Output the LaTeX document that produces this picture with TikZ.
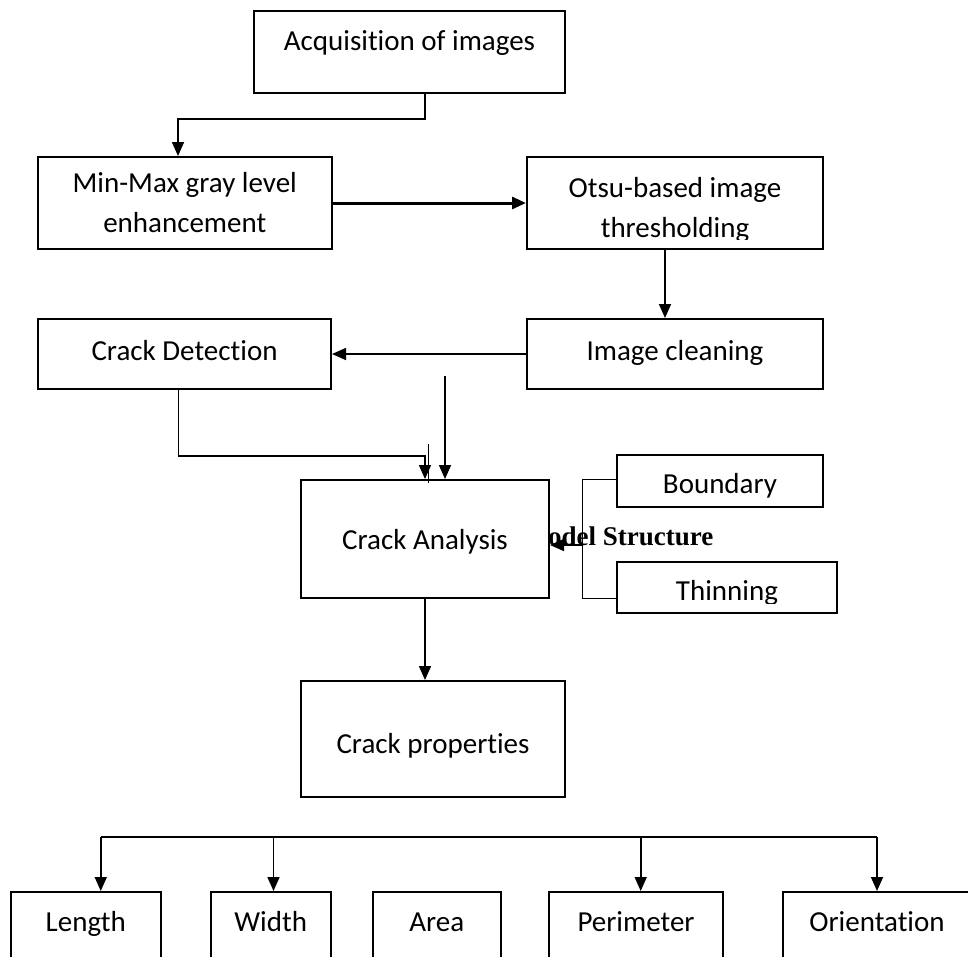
\documentclass[tikz,border=0pt]{standalone}
\usepackage{fontspec}
\setmainfont{Carlito}[Ligatures=NoCommon]
\newfontfamily\serifbold{Liberation Serif}
\usetikzlibrary{arrows.meta}

\tikzset{
  box/.style={draw, line width=2pt, fill=white, inner sep=0pt, align=center},
  leaf/.style={box, anchor=north, minimum height=90pt, text height=20pt, text depth=32pt},
  arr/.style={-{Triangle[length=14pt,width=12pt]}, line width=1.6pt},
  clipped/.style 2 args={path picture={
      \clip ([yshift=10pt]path picture bounding box.south west)
        rectangle (path picture bounding box.north east);
      \node[align=center] at ([yshift=#2]path picture bounding box.center) {#1};}},
}

\begin{document}
\begin{tikzpicture}[x=1pt, y=-1pt, font=\fontsize{29}{40}\selectfont]
    \useasboundingbox (0,0) rectangle (968,956);
    % processing chain
    \node[box, minimum width=311pt, minimum height=82pt, text height=20pt, text depth=23pt] (acq) at (409.5,51.7) {Acquisition of images};
    \node[box, minimum width=293.5pt, minimum height=92pt] (minmax) at (184.75,203) {Min-Max gray level\\enhancement};
    \node[box, minimum width=296pt, minimum height=92pt, clipped={Otsu-based image\\thresholding}{-7pt}] (otsu) at (675,203) {};
    \node[box, minimum width=293pt, minimum height=70pt, text height=20pt, text depth=8pt] (detect) at (184.5,354) {Crack Detection};
    \node[box, minimum width=296pt, minimum height=70pt, text height=20pt, text depth=8pt] (clean) at (675,354) {Image cleaning};
    \node[box, minimum width=248pt, minimum height=118pt, text height=20pt, text depth=0pt] (analysis) at (425,539) {Crack Analysis};
    \node[box, minimum width=206pt, minimum height=52pt, clipped={Boundary}{-5pt}] (boundary) at (720,481) {};
    \node[box, minimum width=220pt, minimum height=51pt, clipped={Thinning}{-5.5pt}] (thinning) at (727,587.5) {};
    \node[box, minimum width=264pt, minimum height=116pt, text height=34pt, text depth=6pt] (props) at (433,739) {Crack properties};
    % properties
    \node[leaf, minimum width=150.5pt] (len) at (85.75,891) {Length};
    \node[leaf, minimum width=120.5pt] (wid) at (270.75,891) {Width};
    \node[leaf, minimum width=127.6pt] (area) at (436.8,891) {Area};
    \node[leaf, minimum width=174pt] (perim) at (636,891) {Perimeter};
    \node[leaf, minimum width=188pt] (orient) at (877,891) {Orientation};

    \draw[arr] (acq.south) ++(15.5,0) -- ++(0,25) -| ([xshift=-6.75pt]minmax.north);
    \draw[arr, line width=3pt] (minmax.east) -- (otsu.west);
    \draw[arr] ([xshift=-10pt]otsu.south) -- ([xshift=-10pt]clean.north);
    \draw[arr] (clean.west) -- (detect.east);
    \draw[arr] (detect.south) ++(-6,0) -- ++(0,66) -| (analysis.north);
    \coordinate (drop) at (445,376);
    \draw[arr] (drop) -- (drop |- analysis.north);
    \coordinate (tick) at (428.7,444);
    \draw[line width=1.2pt] (tick) -- ++(0,39);

    \node[font=\serifbold\bfseries\fontsize{27}{30}\selectfont, anchor=base west, inner sep=0pt] (stray) at (548,545) {odel Structure};
    \draw[line width=1pt] (boundary.west) ++(0,-2) -- ++(-34,0) |- ([yshift=-10.5pt]thinning.west);
    \coordinate (join) at (583,545);
    \draw[arr] (join) -- (join -| analysis.east);
    \draw[arr] (analysis.south) -- (analysis.south |- props.north);

    \coordinate (bus) at (100.6,837);
    \draw[line width=2pt] (bus) -- (bus -| orient.north);
    \foreach \n/\dx in {len/15, wid/2.75, perim/4.7, orient/0}
        \draw[arr] (\n.north) ++(\dx,-54) -- ++(0,54);
\end{tikzpicture}
\end{document}
